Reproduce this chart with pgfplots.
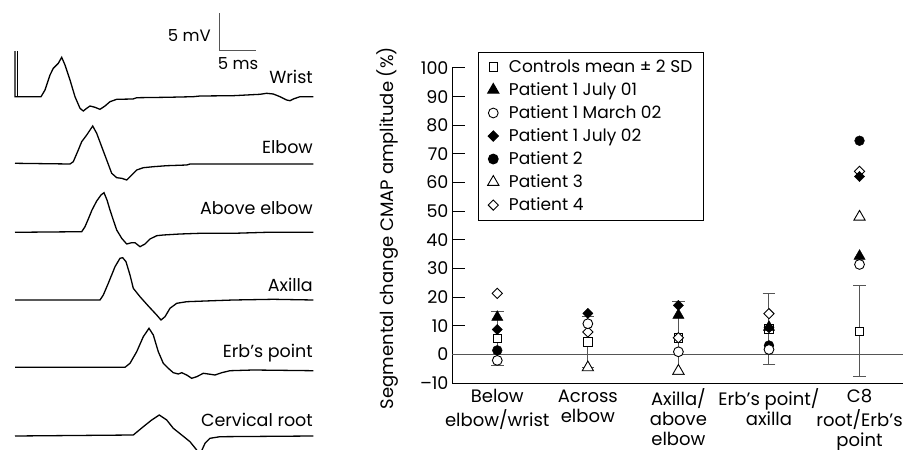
\documentclass[border=0pt]{standalone}
\usepackage{pgfplots}
\pgfplotsset{compat=1.18}
\usepackage{fontspec}
\setmainfont{Poppins}
\definecolor{barg}{RGB}{85,85,85}
\begin{document}
\begin{tikzpicture}[font=\fontsize{17.5bp}{22bp}\selectfont]
\path[use as bounding box] (0,0) rectangle (903bp,450bp);
% ---------- left: CMAP traces (pixel units) ----------
\begin{axis}[at={(0bp,450bp)}, anchor=north west, x=1bp, y=1bp, y dir=reverse,
  xmin=0, xmax=330, ymin=0, ymax=450, hide axis, clip=false, enlargelimits=false]
% scale bar
\addplot[barg, line width=1bp] coordinates {(219,13)(219,50)(256,50)};
% Wrist
\addplot[black, line width=1.3bp] coordinates {(17.5,51)(17.5,97)};
\addplot[black, line width=1.3bp] coordinates {(15,51)(15,96.7)(41,96.7)(45,90)(50,75)(53.3,68.3)(58.3,63.3)(61.7,57.3)(65,65)(70,80)(75,96.7)(80,108.3)(83.3,111)(86.7,108.3)(90,106)(95,107.3)(100,109.3)(105,106)(110,101.7)(116.7,99.3)(133,99)(136.7,97.7)(166.7,97.3)(193.3,96.7)(200,96)(233,95.7)(260,94.3)(266.7,93.3)(273.3,94)(280,96.7)(286.7,100)(290,100.7)(293.3,99)(300,96.7)(313.3,96.7)};
% Elbow
\addplot[black, line width=1.3bp] coordinates {(15,163.3)(70,164)(73.3,161.7)(78.3,150)(81.7,141.7)(86.7,135)(92.7,126)(96.7,133.3)(101.7,146.7)(106.7,160)(111.7,173.3)(116.7,177.7)(121.7,178.3)(126.7,180)(131.7,175)(136.7,170)(143.3,167.7)(153.3,166.7)(166.7,165.7)(186.7,165)(190,164)(233,164)(313.3,164)};
% Above elbow
\addplot[black, line width=1.3bp] coordinates {(15,232.3)(81.7,231.7)(85,226.7)(88.3,219)(92,210)(96.7,201)(101,195)(104,192.7)(107,200)(110,210)(113.3,220)(116.7,230)(121.7,238.3)(126.7,244)(131.7,242.7)(135,242.7)(140,246.7)(145,244)(150,239)(156.7,235.7)(163.3,235)(180,234)(200,233.3)(233.3,233.3)(266.7,232.3)(313.3,232.3)};
% Axilla
\addplot[black, line width=1.3bp] coordinates {(15,300)(100,300)(103.3,295)(108.3,283.3)(115,266.7)(120,258.3)(122.7,257.7)(126,261.7)(130,275)(133.3,288.3)(140,296.7)(148.3,306)(156.7,315)(161,320)(165,316.7)(170,308.3)(176.7,303.3)(186.7,301.7)(213.3,300.7)(233.3,300)(273.3,299.3)(313.3,300)};
% Erb's point
\addplot[black, line width=1.3bp] coordinates {(15,367.3)(125,367.3)(130,363.3)(136.7,351.7)(143.3,336.7)(149,328.3)(153.3,335)(158.3,351.7)(163.3,363.3)(168.3,368.3)(173.3,372.7)(178.3,374)(181.7,372.7)(186.7,375)(191.7,378.3)(196.7,376.7)(203.3,373.3)(208.3,374)(215,375)(221.7,372.7)(230,370.7)(253.3,370)(313.3,370.7)};
% Cervical root
\addplot[black, line width=1.3bp] coordinates {(15,436)(133.3,435)(143.3,426.7)(151.7,420)(159.3,415)(166.7,420)(173.3,428.3)(181.7,435)(190,441.7)(196.7,450)(199,454)(202,450)(205,443.3)(210,438.3)(220,436.7)(313.3,436)};
\node[anchor=east, inner sep=0pt, font=\fontsize{16.5bp}{20bp}\selectfont] at (axis cs:211,36) {5 mV};
\node[anchor=center, inner sep=0pt, font=\fontsize{16.5bp}{20bp}\selectfont] at (axis cs:238,64) {5 ms};
\node[anchor=east, inner sep=0pt] at (axis cs:313,77) {Wrist};
\node[anchor=east, inner sep=0pt] at (axis cs:313,147) {Elbow};
\node[anchor=east, inner sep=0pt] at (axis cs:313,208) {Above elbow};
\node[anchor=east, inner sep=0pt] at (axis cs:313,285) {Axilla};
\node[anchor=east, inner sep=0pt] at (axis cs:313,353) {Erb's point};
\node[anchor=east, inner sep=0pt] at (axis cs:313,420) {Cervical root};
\end{axis}
% ---------- right: segmental change ----------
\begin{axis}[at={(452bp,67bp)}, anchor=south west,
  width=451bp, height=315bp, scale only axis,
  xmin=-0.5, xmax=4.48, ymin=-10, ymax=100,
  axis x line*=bottom, axis y line*=left,
  axis line style={-, line width=1bp, black},
  xtick={0,1,2,3,4},
  xticklabels={{\strut Below\\elbow/wrist},{\strut Across\\elbow},{\strut Axilla/\\above\\elbow},{\strut Erb's point/\\axilla},{\strut C8\\root/Erb's\\point}},
  xticklabel style={align=center, inner sep=0pt, font=\fontsize{18bp}{20bp}\selectfont, yshift=-5.5bp},
  xtick style={draw=none},
  ytick={-10,0,10,20,30,40,50,60,70,80,90,100},
  yticklabels={–10,0,10,20,30,40,50,60,70,80,90,100},
  yticklabel style={font=\fontsize{17.5bp}{20bp}\selectfont},
  tick align=inside, major tick length=13bp,
  ytick style={line width=1bp, black},
  ylabel={Segmental change CMAP amplitude (\%)},
  ylabel style={at={(axis description cs:-0.144,0.492)}, anchor=center, font=\fontsize{18bp}{22bp}\selectfont},
  clip=false,
  legend cell align=left,
  legend style={at={(axis description cs:0.058,1.052)}, anchor=north west, draw=black, line width=1bp,
    font=\fontsize{17bp}{21bp}\selectfont, inner xsep=9bp, inner ysep=6bp, row sep=4.6bp,
    /tikz/every odd column/.append style={column sep=8bp}},
]
\addlegendimage{only marks, mark=square*, mark size=4.3bp, mark options={fill=white, line width=0.9bp}}
\addlegendentry{Controls mean ± 2 SD}
\addlegendimage{only marks, mark=triangle*, mark size=6.5bp, mark options={fill=black}}
\addlegendentry{Patient 1 July 01}
\addlegendimage{only marks, mark=*, mark size=4.9bp, mark options={fill=white, line width=0.9bp}}
\addlegendentry{Patient 1 March 02}
\addlegendimage{only marks, mark=square*, mark size=3.6bp, mark options={fill=black, rotate=45}}
\addlegendentry{Patient 1 July 02}
\addlegendimage{only marks, mark=*, mark size=4.9bp, mark options={fill=black}}
\addlegendentry{Patient 2}
\addlegendimage{only marks, mark=triangle*, mark size=6.5bp, mark options={fill=white, line width=0.9bp}}
\addlegendentry{Patient 3}
\addlegendimage{only marks, mark=square*, mark size=3.6bp, mark options={fill=white, line width=0.9bp, rotate=45}}
\addlegendentry{Patient 4}
% zero line
\addplot[barg, line width=1bp, forget plot] coordinates {(-0.5,0)(4.48,0)};
% controls
\addplot[forget plot, only marks, mark=square*, mark size=4.3bp, mark options={fill=white, draw=black, line width=0.9bp},
  error bars/.cd, y dir=both, y explicit, error bar style={barg, line width=1bp},
  error mark options={rotate=90, mark size=6.3bp, barg, line width=1bp}]
  coordinates {(0,5.5) +- (0,9.3) (1,4.3) +- (0,8.8) (2,5.8) +- (0,12.8) (3,8.9) +- (0,12.4) (4,8.0) +- (0,15.9)};
% Patient 4
\addplot[forget plot, only marks, mark=square*, mark size=3.6bp, mark options={fill=white, draw=black, line width=0.9bp, rotate=45}]
  coordinates {(0,21.3)(1,7.8)(2,5.8)(3,14.2)(4,63.9)};
% Patient 3
\addplot[forget plot, only marks, mark=triangle*, mark size=6.5bp, mark options={fill=white, draw=black, line width=0.9bp}]
  coordinates {(1,-4.6)(2,-5.8)(4,48.0)};
% Patient 2
\addplot[forget plot, only marks, mark=*, mark size=4.9bp, mark options={fill=black, draw=black}]
  coordinates {(0,1.4)(3,3.1)(4,74.6)};
% Patient 1 March 02
\addplot[forget plot, only marks, mark=*, mark size=4.9bp, mark options={fill=white, draw=black, line width=0.9bp}]
  coordinates {(0,-2.1)(1,10.7)(2,0.9)(3,1.7)(4,31.4)};
% Patient 1 July 01
\addplot[forget plot, only marks, mark=triangle*, mark size=6.5bp, mark options={fill=black, draw=black}]
  coordinates {(0,13.0)(2,13.7)(3,9.5)(4,34.3)};
% Patient 1 July 02
\addplot[forget plot, only marks, mark=square*, mark size=3.6bp, mark options={fill=black, draw=black, rotate=45}]
  coordinates {(0,8.7)(1,14.3)(2,17.1)(3,9.3)(4,62.1)};
\end{axis}
\end{tikzpicture}
\end{document}
